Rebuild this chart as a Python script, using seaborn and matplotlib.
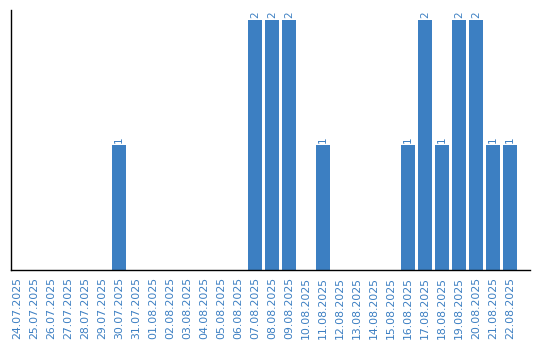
import matplotlib
matplotlib.use("Agg")
import matplotlib.pyplot as plt
import seaborn as sns
import pandas as pd

dates = ["24.07.2025","25.07.2025","26.07.2025","27.07.2025","28.07.2025","29.07.2025",
         "30.07.2025","31.07.2025","01.08.2025","02.08.2025","03.08.2025","04.08.2025",
         "05.08.2025","06.08.2025","07.08.2025","08.08.2025","09.08.2025","10.08.2025",
         "11.08.2025","12.08.2025","13.08.2025","14.08.2025","15.08.2025","16.08.2025",
         "17.08.2025","18.08.2025","19.08.2025","20.08.2025","21.08.2025","22.08.2025"]
counts = [0,0,0,0,0,0,1,0,0,0,0,0,0,0,2,2,2,0,1,0,0,0,0,1,2,1,2,2,1,1]

sns.set_style("white")
plt.rcParams['font.family'] = ['DejaVu Sans']
color = "#3c7fc2"

df = pd.DataFrame({"date": dates, "count": counts})
fig = plt.figure(figsize=(5.4, 3.4), dpi=100)
ax = fig.add_axes([11/540, 70/340, 519/540, 260/340])
sns.barplot(data=df, x="date", y="count", color=color, saturation=1, width=0.82,
            linewidth=0, ax=ax)
ax.set_xlim(-0.36, 30.18)
ax.set_ylim(0, 2.08)
ax.set_xlabel("")
ax.set_ylabel("")
ax.set_yticks([])
ax.tick_params(axis="x", length=0, pad=5, labelsize=7.8, labelcolor=color, rotation=90)
for s in ["top", "right"]:
    ax.spines[s].set_visible(False)
for s in ["left", "bottom"]:
    ax.spines[s].set_color("black")
    ax.spines[s].set_linewidth(1)
for i, v in enumerate(counts):
    if v > 0:
        ax.text(i, v + 0.02, str(v), rotation=90, ha="center", va="bottom",
                fontsize=7.5, color=color)
fig.savefig("out.png", dpi=100)
